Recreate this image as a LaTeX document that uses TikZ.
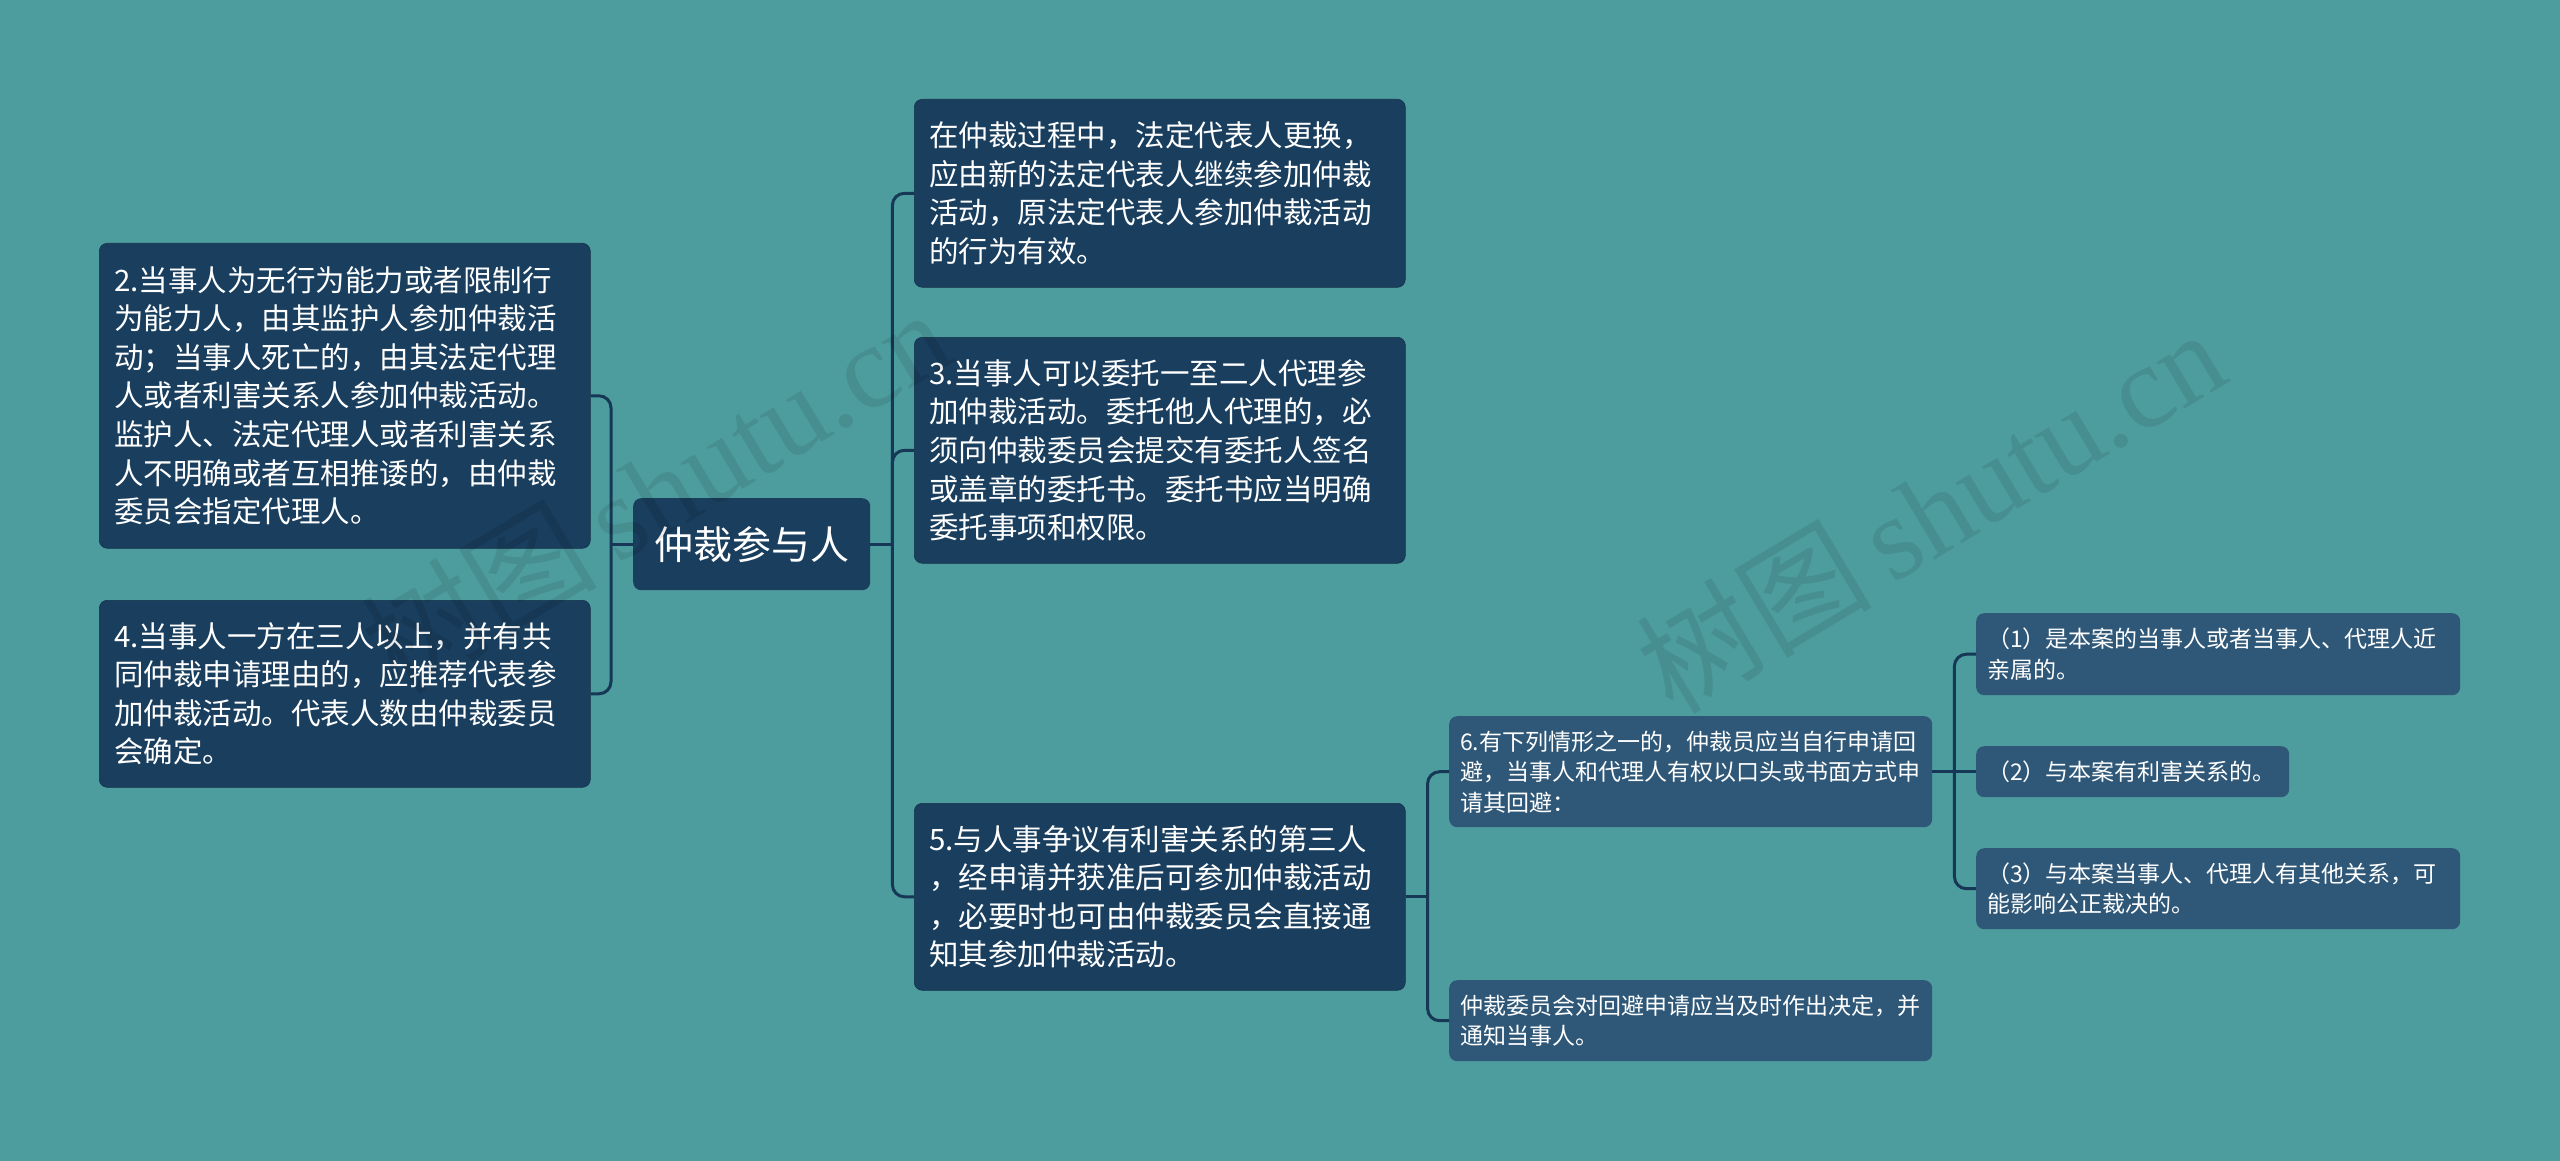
\documentclass[tikz,border=0pt]{standalone}
\usepackage{fontspec}
\setmainfont{Noto Sans CJK SC}
\newfontfamily\cjkf{Noto Sans CJK SC}
\newfontfamily\wmlatin{Liberation Serif}
\usetikzlibrary{calc}
\definecolor{bgc}{RGB}{78,157,158}
\definecolor{dkbox}{RGB}{25,62,94}
\definecolor{ltbox}{RGB}{47,88,120}
\definecolor{linec}{RGB}{22,56,86}
\begin{document}
\begin{tikzpicture}[x=1pt,y=-1pt,
  box/.style={anchor=north west, rounded corners=8pt, text=white, align=left, inner ysep=0pt},
  lvtwo/.style={box, fill=dkbox, draw=dkbox!80!black, line width=0.6pt, inner xsep=15pt, text width=461pt, font=\fontsize{29.5pt}{38.6pt}\selectfont},
  lvthree/.style={box, fill=ltbox, inner xsep=11pt, text width=461pt, font=\fontsize{23pt}{30.5pt}\selectfont},
  rootbox/.style={anchor=north west, rounded corners=8pt, fill=dkbox, text=white, align=center, minimum width=237pt, minimum height=92pt, inner sep=0pt, font=\fontsize{39pt}{46pt}\selectfont},
  conn/.style={draw=linec, line width=3pt, rounded corners=12pt},
  wmark/.style={text=black, opacity=0.09, rotate=31, inner sep=0pt}
]
\fill[bgc] (0,0) rectangle (2560,1161);
\useasboundingbox (0,0) rectangle (2560,1161);

% root
\node[rootbox] (root) at (633,498) {仲裁参与人};

% right level-2 boxes
\node[lvtwo, minimum height=188pt] (b1) at (914,99) {在仲裁过程中，法定代表人更换，\\应由新的法定代表人继续参加仲裁\\活动，原法定代表人参加仲裁活动\\的行为有效。};
\node[lvtwo, minimum height=226pt] (b3) at (914,337) {3.当事人可以委托一至二人代理参\\加仲裁活动。委托他人代理的，必\\须向仲裁委员会提交有委托人签名\\或盖章的委托书。委托书应当明确\\委托事项和权限。};
\node[lvtwo, minimum height=187pt] (b5) at (914,803) {5.与人事争议有利害关系的第三人\\，经申请并获准后可参加仲裁活动\\，必要时也可由仲裁委员会直接通\\知其参加仲裁活动。};

% left level-2 boxes
\node[lvtwo, minimum height=305pt] (b2) at (99,243) {2.当事人为无行为能力或者限制行\\为能力人，由其监护人参加仲裁活\\动；当事人死亡的，由其法定代理\\人或者利害关系人参加仲裁活动。\\监护人、法定代理人或者利害关系\\人不明确或者互相推诿的，由仲裁\\委员会指定代理人。};
\node[lvtwo, minimum height=187pt] (b4) at (99,600) {4.当事人一方在三人以上，并有共\\同仲裁申请理由的，应推荐代表参\\加仲裁活动。代表人数由仲裁委员\\会确定。};

% level-3 boxes
\node[lvthree, minimum height=111pt] (b6) at (1449,716) {6.有下列情形之一的，仲裁员应当自行申请回\\避，当事人和代理人有权以口头或书面方式申\\请其回避：};
\node[lvthree, minimum height=81pt] (b7) at (1449,980) {仲裁委员会对回避申请应当及时作出决定，并\\通知当事人。};

% level-4 boxes
\node[lvthree, text width=462pt, minimum height=82pt] (c1) at (1976,613) {（1）是本案的当事人或者当事人、代理人近\\亲属的。};
\node[lvthree, text width=291pt, minimum height=51pt] (c2) at (1976,746) {（2）与本案有利害关系的。};
\node[lvthree, text width=462pt, minimum height=81pt] (c3) at (1976,848) {（3）与本案当事人、代理人有其他关系，可\\能影响公正裁决的。};

% junction coordinates
\coordinate (sR) at ($(root.east)+(22,0)$);
\coordinate (sL) at ($(root.west)+(-22,0)$);
\coordinate (sM) at ($(b5.east)+(22,0)$);
\coordinate (sN) at ($(b6.east)+(22,0)$);

% connectors
\draw[conn] (root.east) -- (sR);
\draw[conn] (sR) |- (b1.west);
\draw[conn] (sR) |- (b3.west);
\draw[conn] (sR) |- (b5.west);
\draw[conn] (root.west) -- (sL);
\draw[conn] (sL) |- (b2.east);
\draw[conn] (sL) |- (b4.east);
\draw[conn] (b5.east) -- (sM);
\draw[conn] (sM) |- (b6.west);
\draw[conn] (sM) |- (b7.west);
\draw[conn] (b6.east) -- (sN);
\draw[conn] (sN) |- (c1.west);
\draw[conn] (sN) -- (c2.west);
\draw[conn] (sN) |- (c3.west);

% watermarks
\node[wmark] (wm1) at (655,490) {\fontsize{118pt}{120pt}\selectfont\cjkf 树图\,\wmlatin shutu.cn};
\node[wmark] (wm2) at (1930,510) {\fontsize{118pt}{120pt}\selectfont\cjkf 树图\,\wmlatin shutu.cn};
\end{tikzpicture}
\end{document}
